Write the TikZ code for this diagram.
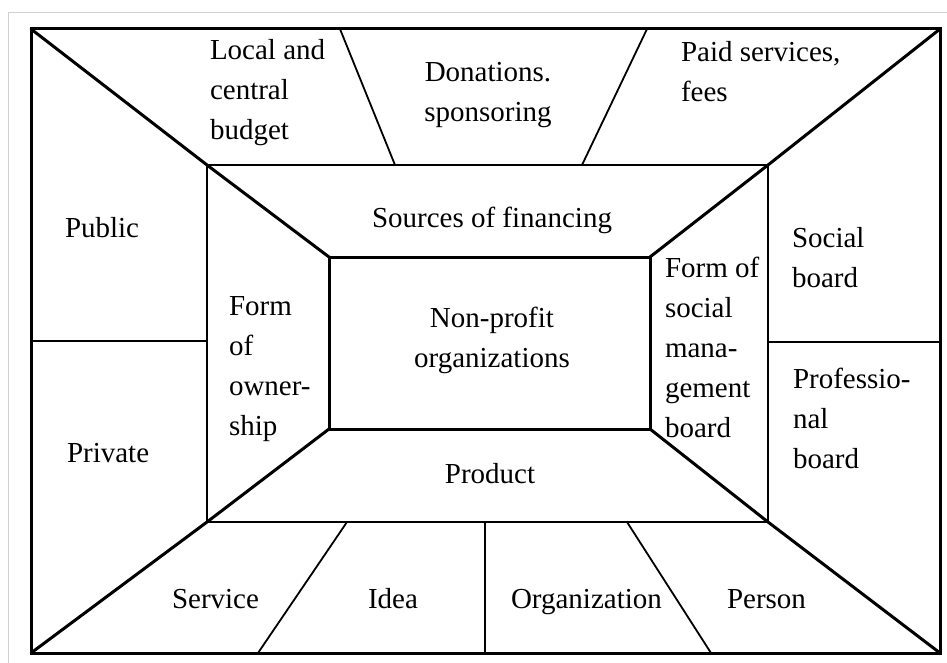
\documentclass[tikz,border=0pt]{standalone}
\usepackage{fontspec}
\setmainfont{Liberation Serif}
\begin{document}
\begin{tikzpicture}[x=1pt,y=-1pt,
  frame/.style={line width=3pt,line cap=round,line join=miter},
  midframe/.style={line width=2.6pt},
  radial/.style={line width=1.8pt},
  lbl/.style={font=\fontsize{29}{40}\selectfont,inner sep=0pt,outer sep=0pt},
  llbl/.style={lbl,align=left,anchor=base west},
  clbl/.style={lbl,align=center,anchor=base}]
\useasboundingbox (0,0) rectangle (947,663);
% faint scan border
\draw[gray!35,line width=0.8pt] (8,663) -- (8,12) -- (947,12);
% corners
\coordinate (OTL) at (31,29);  \coordinate (OTR) at (940,29);
\coordinate (OBR) at (940,653); \coordinate (OBL) at (31,653);
\coordinate (MTL) at (207,165); \coordinate (MTR) at (768,165);
\coordinate (MBR) at (768,522); \coordinate (MBL) at (207,522);
\coordinate (ITL) at (329,257); \coordinate (ITR) at (650,257);
\coordinate (IBR) at (650,429); \coordinate (IBL) at (329,429);
% radial end points
\coordinate (t1a) at (340,29);  \coordinate (t1b) at (395,165);
\coordinate (t2a) at (647,29);  \coordinate (t2b) at (582,165);
\coordinate (la) at (31,341);   \coordinate (lb) at (207,341);
\coordinate (ra) at (768,342);  \coordinate (rb) at (940,342);
\coordinate (b1a) at (347,522); \coordinate (b1b) at (258,653);
\coordinate (b2a) at (485,522); \coordinate (b2b) at (485,653);
\coordinate (b3a) at (627,522); \coordinate (b3b) at (711,653);
% rectangles
\draw[frame] (OTL) -- (OTR) -- (OBR) -- (OBL) -- cycle;
\draw[midframe] (MTL) -- (MTR) -- (MBR) -- (MBL) -- cycle;
\draw[frame] (ITL) -- (ITR) -- (IBR) -- (IBL) -- cycle;
% diagonals
\draw[frame] (OTL) -- (MTL) -- (ITL);
\draw[frame] (OTR) -- (MTR) -- (ITR);
\draw[frame] (OBR) -- (MBR) -- (IBR);
\draw[frame] (OBL) -- (MBL) -- (IBL);
% radial dividers
\draw[radial] (t1a) -- (t1b);
\draw[radial] (t2a) -- (t2b);
\draw[midframe] (la) -- (lb);
\draw[midframe] (ra) -- (rb);
\draw[radial] (b1a) -- (b1b);
\draw[radial] (b2a) -- (b2b);
\draw[radial] (b3a) -- (b3b);
% labels (base anchor = baseline of the last line)
\node[llbl] (budget) at (210,140) {Local and\\central\\budget};
\node[clbl] (don) at (488,122) {Donations.\\sponsoring};
\node[llbl] (paid) at (681,102) {Paid services,\\fees};
\node[clbl] (src) at (492,227) {Sources of financing};
\node[llbl] (public) at (65,237) {Public};
\node[llbl] (own) at (229,435) {Form\\of\\owner-\\ship};
\node[clbl] (npo) at (492,367) {Non-profit\\organizations};
\node[llbl] (soc) at (665,437) {Form of\\social\\mana-\\gement\\board};
\node[llbl] (sboard) at (792,287) {Social\\board};
\node[llbl] (pboard) at (793,468) {Professio-\\nal\\board};
\node[llbl] (private) at (67,462) {Private};
\node[clbl] (product) at (490,483) {Product};
\node[llbl] (service) at (172,608) {Service};
\node[llbl] (idea) at (368,608) {Idea};
\node[llbl] (org) at (511,608) {Organization};
\node[llbl] (person) at (727,608) {Person};
\end{tikzpicture}
\end{document}
